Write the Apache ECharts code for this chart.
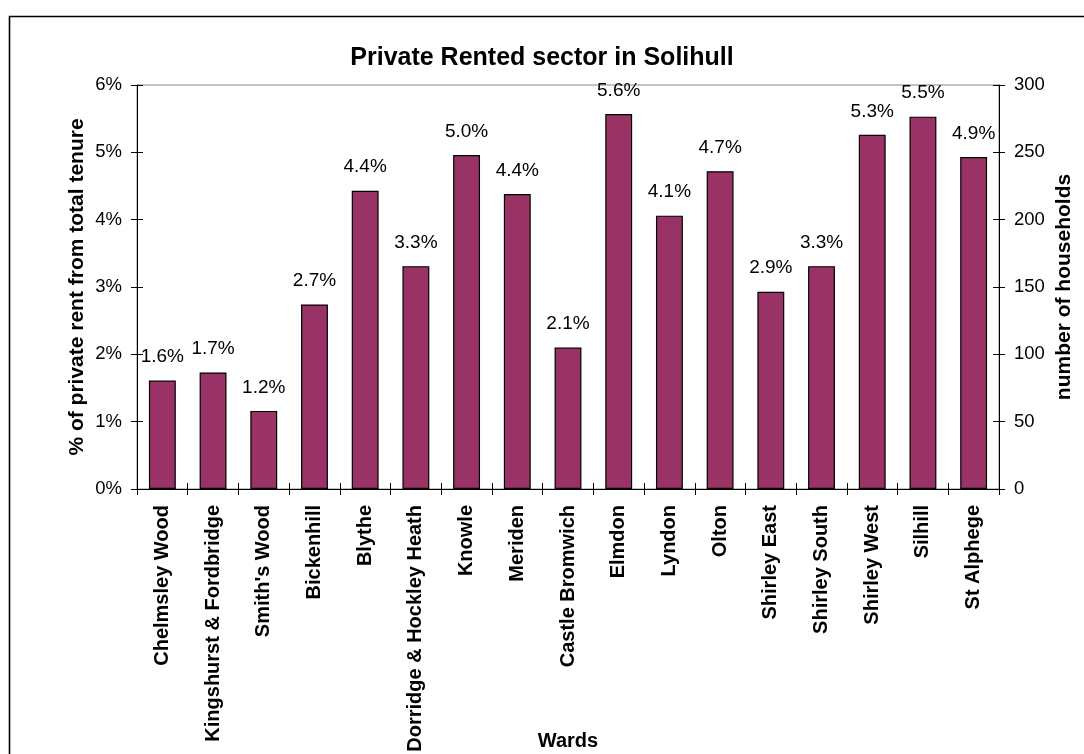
<!DOCTYPE html>
<html><head><meta charset="utf-8">
<script src="https://cdn.jsdelivr.net/npm/echarts@6/dist/echarts.min.js"></script>
<style>html,body{margin:0;padding:0;background:#fff}#c{width:1084px;height:754px}</style>
</head><body><div id="c"></div>
<script>
const categories = ["Chelmsley Wood","Kingshurst & Fordbridge","Smith's Wood","Bickenhill","Blythe","Dorridge & Hockley Heath","Knowle","Meriden","Castle Bromwich","Elmdon","Lyndon","Olton","Shirley East","Shirley South","Shirley West","Silhill","St Alphege"];
const privateRentPct = [1.61,1.73,1.16,2.74,4.43,3.31,4.96,4.38,2.10,5.57,4.06,4.72,2.93,3.31,5.26,5.53,4.93];
const leftTicks = [0,1,2,3,4,5,6];
const rightTicks = [0,50,100,150,200,250,300];
const title = "Private Rented sector in Solihull";
const leftName = "% of private rent from total tenure";
const rightName = "number of households";
const xName = "Wards";

const font = "Arial, 'Liberation Sans', sans-serif";
const chart = echarts.init(document.getElementById('c'), null, {renderer:'canvas'});
const tickStyle = {color:'#000',width:1};
chart.setOption({
  animation:false,
  backgroundColor:'#fff',
  title:{text:title,left:'center',top:41,textStyle:{fontFamily:font,fontSize:25,fontWeight:'bold',color:'#000'}},
  graphic:[{type:'rect',shape:{x:9.5,y:16.5,width:1100,height:800},style:{fill:'none',stroke:'#000',lineWidth:1.6},silent:true,z:100}],
  grid:{left:137,right:85,top:85,bottom:265,containLabel:false,outerBoundsMode:'none',show:true,borderColor:'#888',borderWidth:1,backgroundColor:'#fff'},
  xAxis:[
    {type:'category',data:categories,name:xName,nameLocation:'middle',nameGap:242,nameMoveOverlap:false,
    nameTextStyle:{fontFamily:font,fontSize:20,fontWeight:'bold',color:'#000'},
    axisLine:{lineStyle:{color:'#000',width:1}},
    axisTick:{show:true,interval:0,alignWithLabel:false,length:6,lineStyle:tickStyle},
    axisLabel:{rotate:90,interval:0,hideOverlap:false,fontFamily:font,fontSize:20,fontWeight:'bold',color:'#000',margin:16}},
    {type:'category',data:categories,position:'bottom',offset:0,
    axisLine:{show:false},axisTick:{show:true,interval:0,inside:true,length:6,lineStyle:tickStyle},axisLabel:{show:false,interval:0}}
  ],
  yAxis:[
    {type:'value',min:0,max:6,interval:1,position:'left',name:leftName,nameLocation:'middle',nameGap:49,nameRotate:90,nameMoveOverlap:false,
     nameTextStyle:{fontFamily:font,fontSize:21,fontWeight:'bold',color:'#000'},
     axisLine:{show:true,lineStyle:{color:'#000'}},axisTick:{show:true,length:6,lineStyle:tickStyle},
     splitLine:{show:false},
     axisLabel:{fontFamily:font,fontSize:18.5,color:'#000',margin:15,formatter:v=>leftTicks.includes(v)?v+'%':''}},
    {type:'value',min:0,max:300,interval:50,position:'right',name:rightName,nameLocation:'middle',nameGap:55,nameRotate:90,nameMoveOverlap:false,
     nameTextStyle:{fontFamily:font,fontSize:21,fontWeight:'bold',color:'#000'},
     axisLine:{show:true,lineStyle:{color:'#000'}},axisTick:{show:true,length:6,lineStyle:tickStyle},
     splitLine:{show:false},
     axisLabel:{fontFamily:font,fontSize:18.5,color:'#000',margin:15,formatter:v=>rightTicks.includes(v)?String(v):''}},
    {type:'value',min:0,max:6,interval:1,position:'left',offset:0,
     axisLine:{show:false},axisTick:{show:true,inside:true,length:6,lineStyle:tickStyle},axisLabel:{show:false},splitLine:{show:false}},
    {type:'value',min:0,max:300,interval:50,position:'right',offset:0,
     axisLine:{show:false},axisTick:{show:true,inside:true,length:6,lineStyle:tickStyle},axisLabel:{show:false},splitLine:{show:false}}
  ],
  series:[{type:'bar',xAxisIndex:0,yAxisIndex:0,data:privateRentPct,barWidth:'53%',
    itemStyle:{color:'#993366',borderColor:'#000',borderWidth:1.2},
    label:{show:true,position:'top',distance:14,fontFamily:font,fontSize:19,color:'#000',formatter:p=>p.value.toFixed(1)+'%'}}]
});
</script></body></html>
